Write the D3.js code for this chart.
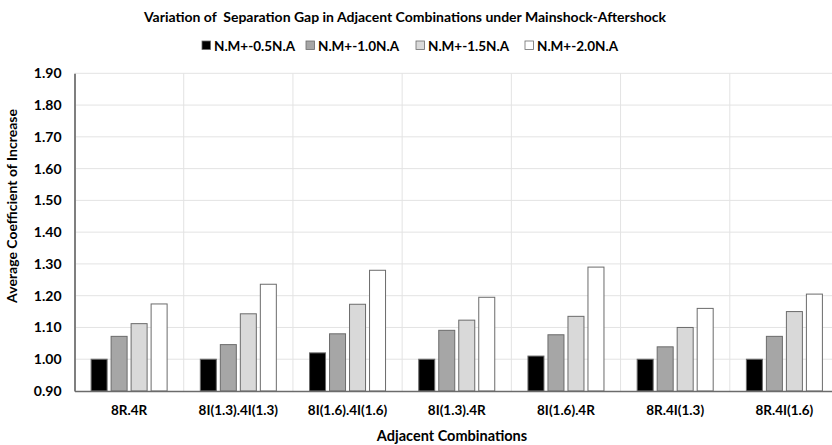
<!DOCTYPE html>
<html>
<head>
<meta charset="utf-8">
<script src="https://cdn.jsdelivr.net/npm/d3@7"></script>
<style>
  html, body { margin: 0; padding: 0; background: #fff; }
  svg { display: block; }
  text { font-family: Lato, "Open Sans", "Liberation Sans", sans-serif; font-weight: 700; fill: #000; }
</style>
</head>
<body>
<svg id="chart" width="832" height="445"></svg>
<script>
// Adjacent building combinations along the x axis
const categories = ["8R.4R", "8I(1.3).4I(1.3)", "8I(1.6).4I(1.6)", "8I(1.3).4R", "8I(1.6).4R", "8R.4I(1.3)", "8R.4I(1.6)"];

// Series names (normal axial load combinations)
const seriesNames = ["N.M+-0.5N.A", "N.M+-1.0N.A", "N.M+-1.5N.A", "N.M+-2.0N.A"];

// Average coefficient of increase, one array per series
const s05 = [1.000, 1.000, 1.020, 1.000, 1.010, 1.000, 1.000];
const s10 = [1.072, 1.046, 1.080, 1.091, 1.077, 1.039, 1.072];
const s15 = [1.112, 1.143, 1.173, 1.123, 1.135, 1.100, 1.150];
const s20 = [1.174, 1.236, 1.280, 1.195, 1.290, 1.160, 1.205];

const yTicks = [0.9, 1.0, 1.1, 1.2, 1.3, 1.4, 1.5, 1.6, 1.7, 1.8, 1.9];

const seriesValues = [s05, s10, s15, s20];
const fills = ["#000000", "#a6a6a6", "#d9d9d9", "#ffffff"];

const svg = d3.select("#chart");

const plot = { left: 74.5, right: 839, top: 73.3, bottom: 391 };

const x = d3.scaleBand().domain(categories).range([plot.left, plot.right]).padding(0);
const xs = d3.scaleBand().domain(d3.range(seriesNames.length))
  .range([16.6, x.bandwidth() - 16.6]).paddingInner(0.2).paddingOuter(0);
const y = d3.scaleLinear().domain([0.9, 1.9]).range([plot.bottom, plot.top]);

// Horizontal gridlines
svg.append("g").selectAll("line").data(yTicks.slice(1)).join("line")
  .attr("x1", plot.left).attr("x2", plot.right)
  .attr("y1", d => y(d)).attr("y2", d => y(d))
  .attr("stroke", "#e3e3e3").attr("stroke-width", 1);

// Vertical gridlines between categories
svg.append("g").selectAll("line").data(categories.slice(1)).join("line")
  .attr("x1", d => x(d)).attr("x2", d => x(d))
  .attr("y1", plot.top).attr("y2", plot.bottom)
  .attr("stroke", "#e3e3e3").attr("stroke-width", 1);

// Bars
const groups = svg.append("g").selectAll("g").data(categories).join("g")
  .attr("transform", d => `translate(${x(d)},0)`);
groups.selectAll("rect")
  .data((c, ci) => seriesValues.map((vals, si) => ({ si, v: vals[ci] })))
  .join("rect")
  .attr("x", d => xs(d.si))
  .attr("width", xs.bandwidth())
  .attr("y", d => y(d.v))
  .attr("height", d => y(0.9) - y(d.v))
  .attr("fill", d => fills[d.si])
  .attr("stroke", "#6b6b6b")
  .attr("stroke-width", 1);

// Y axis
const yAxis = svg.append("g").attr("transform", `translate(${plot.left},0)`)
  .call(d3.axisLeft(y).tickValues(yTicks).tickFormat(d3.format(".2f")).tickSize(0).tickPadding(13));
yAxis.select(".domain").attr("stroke", "#7f7f7f").attr("stroke-width", 2);
yAxis.selectAll("text").attr("font-size", 14).attr("font-family", null).attr("fill", "#000");

// X axis
const xAxis = svg.append("g").attr("transform", `translate(0,${plot.bottom})`)
  .call(d3.axisBottom(x).tickSize(0).tickPadding(14));
xAxis.select(".domain").attr("stroke", "#6b6b6b").attr("stroke-width", 1.5);
xAxis.selectAll("text").attr("font-size", 13.5).attr("font-family", null).attr("fill", "#000");

// Title
svg.append("text").attr("x", 405).attr("y", 21.5).attr("text-anchor", "middle")
  .attr("font-size", 14).attr("xml:space", "preserve")
  .text("Variation of  Separation Gap in Adjacent Combinations under Mainshock-Aftershock");

// Legend
const legendX = [202, 306, 416, 525];
const legend = svg.append("g").selectAll("g").data(seriesNames).join("g")
  .attr("transform", (d, i) => `translate(${legendX[i]},40)`);
legend.append("rect").attr("x", 0).attr("y", 1).attr("width", 8.5).attr("height", 8.5)
  .attr("fill", (d, i) => fills[i]).attr("stroke", "#6b6b6b").attr("stroke-width", 0.8);
legend.append("text").attr("x", 12).attr("y", 10.5).attr("font-size", 13.5).text(d => d);

// Axis titles
svg.append("text").attr("x", 452).attr("y", 441).attr("text-anchor", "middle")
  .attr("font-size", 14.5).text("Adjacent Combinations");
svg.append("text").attr("transform", "translate(17,206) rotate(-90)").attr("text-anchor", "middle")
  .attr("font-size", 14).text("Average Coefficient of Increase");
</script>
</body>
</html>
